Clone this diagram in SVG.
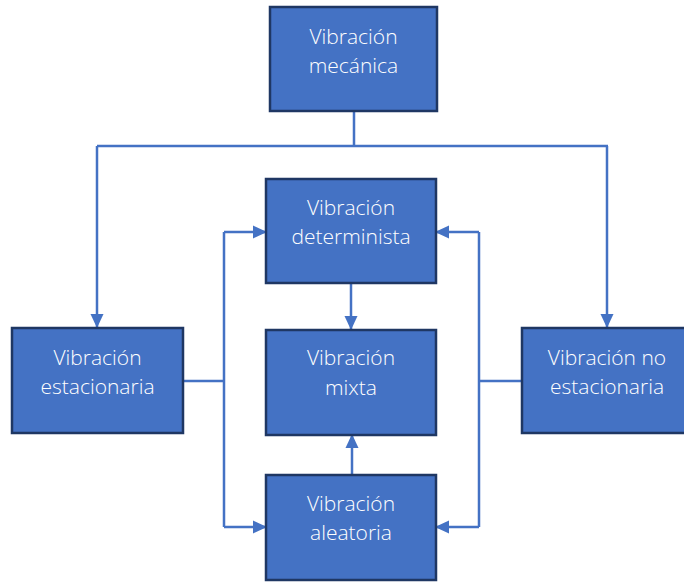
<svg xmlns="http://www.w3.org/2000/svg" width="684" height="584" viewBox="0 0 684 584">
<style>
.box{fill:#4472C4;stroke:#1F3763;stroke-width:2.5}
.t{fill:#FFFFFF;font-family:"Open Sans","Liberation Sans",sans-serif;font-size:21px;font-weight:300;text-anchor:middle}
.c{fill:none;stroke:#4472C4;stroke-width:2.5}
</style>
<defs>
<marker id="ah" markerWidth="14" markerHeight="14" refX="13" refY="7" orient="auto" markerUnits="userSpaceOnUse">
<path d="M0,0.5 L14,7 L0,13.5 Z" fill="#4472C4"/>
</marker>
</defs>
<g id="connectors">
<path class="c" d="M354,112 V146 M97,146 H608"/>
<path class="c" d="M97,146 V327" marker-end="url(#ah)"/>
<path class="c" d="M607,146 V327" marker-end="url(#ah)"/>
<path class="c" d="M183,381 H224 M224,232 V527"/>
<path class="c" d="M224,232 H266" marker-end="url(#ah)"/>
<path class="c" d="M224,527 H266" marker-end="url(#ah)"/>
<path class="c" d="M522,381 H479 M479,232 V527"/>
<path class="c" d="M479,232 H436" marker-end="url(#ah)"/>
<path class="c" d="M479,527 H436" marker-end="url(#ah)"/>
<path class="c" d="M351,284 V329" marker-end="url(#ah)"/>
<path class="c" d="M352,475 V435" marker-end="url(#ah)"/>
</g>
<g id="mecanica">
<rect class="box" x="270" y="7" width="167" height="104"/>
<text class="t" x="353.5" y="44">Vibración</text>
<text class="t" x="353.5" y="73">mecánica</text>
</g>
<g id="estacionaria">
<rect class="box" x="12" y="328" width="171" height="105"/>
<text class="t" x="97.5" y="365">Vibración</text>
<text class="t" x="97.5" y="394">estacionaria</text>
</g>
<g id="noestacionaria">
<rect class="box" x="522" y="328" width="171" height="105"/>
<text class="t" x="607" y="365">Vibración no</text>
<text class="t" x="607" y="394">estacionaria</text>
</g>
<g id="determinista">
<rect class="box" x="266" y="179" width="170" height="104"/>
<text class="t" x="351" y="215">Vibración</text>
<text class="t" x="351" y="244">determinista</text>
</g>
<g id="mixta">
<rect class="box" x="266" y="330" width="170" height="105"/>
<text class="t" x="351" y="365">Vibración</text>
<text class="t" x="351" y="395">mixta</text>
</g>
<g id="aleatoria">
<rect class="box" x="266" y="475" width="170" height="105"/>
<text class="t" x="351" y="511">Vibración</text>
<text class="t" x="351" y="540">aleatoria</text>
</g>
</svg>
